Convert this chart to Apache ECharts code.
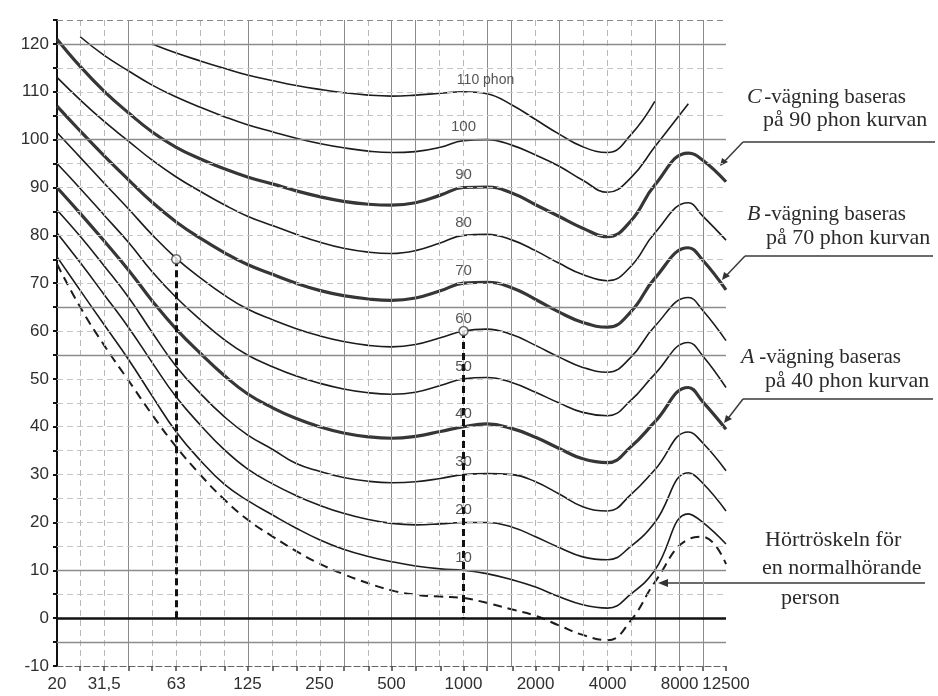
<!DOCTYPE html>
<html>
<head>
<meta charset="utf-8">
<title>Hörselkurvor</title>
<script src="https://cdn.jsdelivr.net/npm/echarts@6/dist/echarts.min.js"></script>
<style>
html,body{margin:0;padding:0;background:#fff;}
#chart{width:938px;height:696px;}
</style>
</head>
<body>
<div id="chart"></div>
<script>
// frekvenser (Hz) där kurvorna avlästs
var freqs = [20,25,31.5,40,50,63,80,100,125,160,200,250,315,400,500,630,800,1000,1250,1600,2000,2500,3150,4000,5000,6300,8700,10000,12500];

// tersband för rutnätet
var gridFreqs = [25,31.5,40,50,63,80,100,125,160,200,250,315,400,500,630,800,1000,1250,1600,2000,2500,3150,4000,5000,6300,8000,10000,12500];

// x-axelns etiketter
var xLabelFreqs = [20,31.5,63,125,250,500,1000,2000,4000,8000,12500];
var xLabels = ['20','31,5','63','125','250','500','1000','2000','4000','8000','12500'];

// hörtröskeln (streckad)
var threshold = [74,65,57,49.5,42.5,35.8,29.8,24.8,20.6,17,14,11.4,9.2,7.3,5.8,4.9,4.5,4.2,3.2,1.8,0.5,-1.5,-3.5,-4.6,-0.5,7.5,16.5,17,11.3];
// hörstyrkekurvor (dB)
var phon10 = [75.5,68.5,61.3,53.9,46.4,38.9,32.8,28,24.6,21.5,18.8,16.4,14.4,12.9,11.8,10.9,10.3,10,9.3,8,6.5,4.5,2.8,2.1,5,10,21.8,20,15.5];
var phon20 = [80.5,74.3,67.6,60.6,53.4,46.2,40.2,35.2,31.2,28,25.6,23.6,21.9,20.6,19.8,19.5,19.7,20,20,19,17,14.8,12.8,12.2,15,20,30.4,28.2,22.4];
var phon30 = [85.3,79.8,73.6,66.9,59.7,52.6,46.8,42.1,38.3,35.2,32.3,30.7,29.4,28.6,28.3,28.5,29.2,30,30.2,30,28.5,26,23.3,22.4,25.8,31,38.9,36.6,30.8];
var phon40 = [90,84.6,78.8,72.6,66.3,60.4,55.2,50.7,46.9,43.9,41.7,40,38.7,37.9,37.6,38,39,40,40.6,39.6,37.8,35.5,33.3,32.5,35.8,41,48.2,45.2,39.5];
var phon50 = [95,89.8,84.2,78.4,72.4,67,62.2,58.2,55,52.5,50.6,49.1,47.9,47.1,46.8,47.2,48.6,50,50.3,49.2,47.2,45,43,42.3,45.5,51,57.6,54.8,48.2];
var phon60 = [101.5,96.3,90.9,85.4,80.1,75.2,71,67.5,64.6,62.3,60.5,59,57.8,57,56.7,57.2,58.6,60,60.4,59.2,57,54.6,52.4,51.4,54.5,61,67,64.3,58];
var phon70 = [107,101.8,96.6,91.5,86.9,82.8,79.3,76.4,73.9,71.8,70,68.5,67.4,66.7,66.4,66.9,68.4,70,70.2,69,66.6,64,61.8,60.8,64,71,77.4,74.8,68.6];
var phon80 = [113,108.3,103.8,99.6,95.7,92.2,89.1,86.4,84,82,80.2,78.6,77.3,76.5,76.2,76.8,78.4,80,80.2,79,76.8,74.2,71.8,70.5,73.5,80.5,86.8,84,79];
var phon90 = [121,115.3,110.1,105.5,101.6,98.4,95.9,93.9,92.2,90.7,89.3,88.1,87.1,86.5,86.3,86.8,88.4,90,90.1,88.8,86.4,84,81.5,79.7,83,90.5,97.2,95.7,91.2];
var phon100 = [null,121.5,117.6,114.3,111.4,108.9,106.7,104.8,103.1,101.6,100.3,99.2,98.3,97.6,97.3,97.5,98.4,99.8,100,98.8,96.8,94.5,91.5,89,92,98.5,107.5,null,null];
var phon110 = [null,null,null,null,120,118.1,116.4,114.9,113.5,112.3,111.3,110.5,109.8,109.3,109.1,109.3,109.7,110,109.6,107.2,104.2,101.2,98.5,97.3,101,108,null,null,null];

var phonLevels = [10,20,30,40,50,60,70,80,90,100,110];
var phonCurves = [phon10,phon20,phon30,phon40,phon50,phon60,phon70,phon80,phon90,phon100,phon110];
var thickLevels = [40,70,90];

// exempel: 63 Hz vid 75 dB låter lika starkt som 1000 Hz vid 60 dB
var markerFreqs = [63,1000];
var markerLevels = [75,60];

var solidGridFreqs = [40,125,315,500,630,1250,1600,2500,6300,8000,10000];
var solidGridLevels = [120,100,65,55,10,-5];

var sans = '"Liberation Sans", Arial, sans-serif';
var serif = '"Liberation Serif", "DejaVu Serif", serif';

function lg(f){ return Math.log10(f); }
function pts(vals){
    var out = [];
    for (var i = 0; i < freqs.length; i++) {
        if (vals[i] != null) out.push([lg(freqs[i]), vals[i]]);
    }
    return out;
}

// rutnät
var gridLines = [];
gridFreqs.forEach(function(f){
    if (f === 12500) {
        gridLines.push({xAxis: lg(f), lineStyle:{color:'#555', width:1.2, type:[6,3]}});
        return;
    }
    var solid = solidGridFreqs.indexOf(f) >= 0;
    gridLines.push({xAxis: lg(f), lineStyle:{color: solid ? '#8c8c8c' : '#b8b8b8', width:1, type: solid ? 'solid' : [6,4]}});
});
for (var v = -5; v <= 125; v += 5) {
    if (v === 0) {
        gridLines.push({yAxis: 0, lineStyle:{color:'#111', width:2.5, type:'solid'}});
    } else if (v === 125) {
        gridLines.push({yAxis: v, lineStyle:{color:'#888', width:1, type:[6,4]}});
    } else {
        var s = solidGridLevels.indexOf(v) >= 0;
        gridLines.push({yAxis: v, lineStyle:{color: s ? '#8c8c8c' : '#c6c6c6', width: s ? 1.3 : 1, type: s ? 'solid' : [6,4]}});
    }
}

var series = [{
    name: 'rutnät',
    type: 'line',
    data: [],
    z: 1,
    silent: true,
    markLine: {
        silent: true,
        symbol: ['none','none'],
        label: {show:false},
        emphasis: {disabled:true},
        animation: false,
        data: gridLines
    }
}];

phonCurves.forEach(function(vals, i){
    var thick = thickLevels.indexOf(phonLevels[i]) >= 0;
    series.push({
        name: phonLevels[i] + ' phon',
        type: 'line',
        data: pts(vals),
        smooth: 0.45,
        showSymbol: false,
        z: 3,
        lineStyle: {color: thick ? '#363636' : '#1c1c1c', width: thick ? 3.2 : 1.6}
    });
});

series.push({
    name: 'Hörtröskel',
    type: 'line',
    data: pts(threshold),
    smooth: 0.45,
    showSymbol: false,
    z: 3,
    lineStyle: {color:'#1c1c1c', width:2, type:[9,6]}
});

// ringar med streckade hjälplinjer ned till 0 dB
series.push({
    name: 'markeringar',
    type: 'scatter',
    data: markerFreqs.map(function(f, i){ return [lg(f), markerLevels[i]]; }),
    symbol: 'circle',
    symbolSize: 9,
    z: 5,
    itemStyle: {color:'#fff', borderColor:'#444', borderWidth:1.5},
    markLine: {
        silent: true,
        symbol: ['none','none'],
        label: {show:false},
        emphasis: {disabled:true},
        animation: false,
        lineStyle: {color:'#111', width:3, type:[7,4]},
        data: markerFreqs.map(function(f, i){
            return [{coord:[lg(f), markerLevels[i]]}, {coord:[lg(f), 0]}];
        })
    }
});

series.push({
    name: 'kurvetiketter',
    type: 'scatter',
    symbolSize: 0,
    z: 6,
    silent: true,
    data: phonLevels.map(function(p){
        return {
            value: [lg(1000), p],
            label: {
                show: true,
                position: 'top',
                distance: 5,
                offset: p === 110 ? [22, 0] : [0, 0],
                formatter: p === 110 ? '110 phon' : String(p),
                color: '#2a2a2a',
                fontFamily: sans,
                fontSize: p === 110 ? 14 : 15
            }
        };
    })
});

function txt(x, y, s, italic, size){
    return {type:'text', x:x, y:y, silent:true,
        style:{text:s, fill:'#2b2b2b', font:(italic ? 'italic ' : '') + (size || 22) + 'px ' + serif, verticalAlign:'middle'}};
}
function ln(x1, y1, x2, y2){
    return {type:'line', silent:true, shape:{x1:x1, y1:y1, x2:x2, y2:y2}, style:{stroke:'#3a3a3a', lineWidth:1.5}};
}
function tip(points){
    return {type:'polygon', silent:true, shape:{points:points}, style:{fill:'#333'}};
}

var graphics = [
    txt(747, 97, 'C', true), txt(759, 97, ' -vägning baseras', false, 21), txt(763, 120, 'på 90 phon kurvan'),
    ln(743, 142, 935, 142), ln(743, 142, 722, 164), tip([[720,166],[722,158],[728,162]]),
    txt(747, 214, 'B', true), txt(759, 214, ' -vägning baseras', false, 21), txt(766, 238, 'på 70 phon kurvan'),
    ln(745, 256, 933, 256), ln(745, 256, 724, 278), tip([[722,280],[724,272],[730,276]]),
    txt(741, 357, 'A', true), txt(754, 357, ' -vägning baseras', false, 21), txt(765, 381, 'på 40 phon kurvan'),
    ln(743, 399, 933, 399), ln(743, 399, 726, 421), tip([[724,423],[726,415],[732,419]]),
    txt(765, 540, 'Hörtröskeln för'), txt(762, 568, 'en normalhörande'), txt(781, 598, 'person'),
    ln(664, 583, 925, 583), tip([[658,583],[668,579],[668,587]])
];

var chart = echarts.init(document.getElementById('chart'));
chart.setOption({
    animation: false,
    backgroundColor: '#fff',
    grid: {left:57, right:212, top:20, bottom:30},
    xAxis: {
        type: 'value',
        min: lg(20),
        max: lg(12500),
        axisLine: {show:true, onZero:false, lineStyle:{color:'#666', width:1.2, type:[6,3]}},
        axisTick: {show:true, customValues: gridFreqs.map(lg), length:5, lineStyle:{color:'#444', width:1.5}},
        axisLabel: {
            customValues: xLabelFreqs.map(lg),
            margin: 10,
            color: '#2f2f2f',
            fontFamily: sans,
            fontSize: 17,
            formatter: function(val){
                for (var i = 0; i < xLabelFreqs.length; i++) {
                    if (Math.abs(lg(xLabelFreqs[i]) - val) < 1e-6) return xLabels[i];
                }
                return '';
            }
        },
        splitLine: {show:false}
    },
    yAxis: {
        type: 'value',
        min: -10,
        max: 125,
        interval: 5,
        axisLine: {show:true, lineStyle:{color:'#111', width:2}},
        axisTick: {show:true, length:4, lineStyle:{color:'#111', width:2}},
        axisLabel: {
            margin: 8,
            color: '#2f2f2f',
            fontFamily: sans,
            fontSize: 17,
            formatter: function(val){ return (val % 10 === 0 && val <= 120) ? String(val) : ''; }
        },
        splitLine: {show:false}
    },
    graphic: graphics,
    series: series
});
</script>
</body>
</html>
